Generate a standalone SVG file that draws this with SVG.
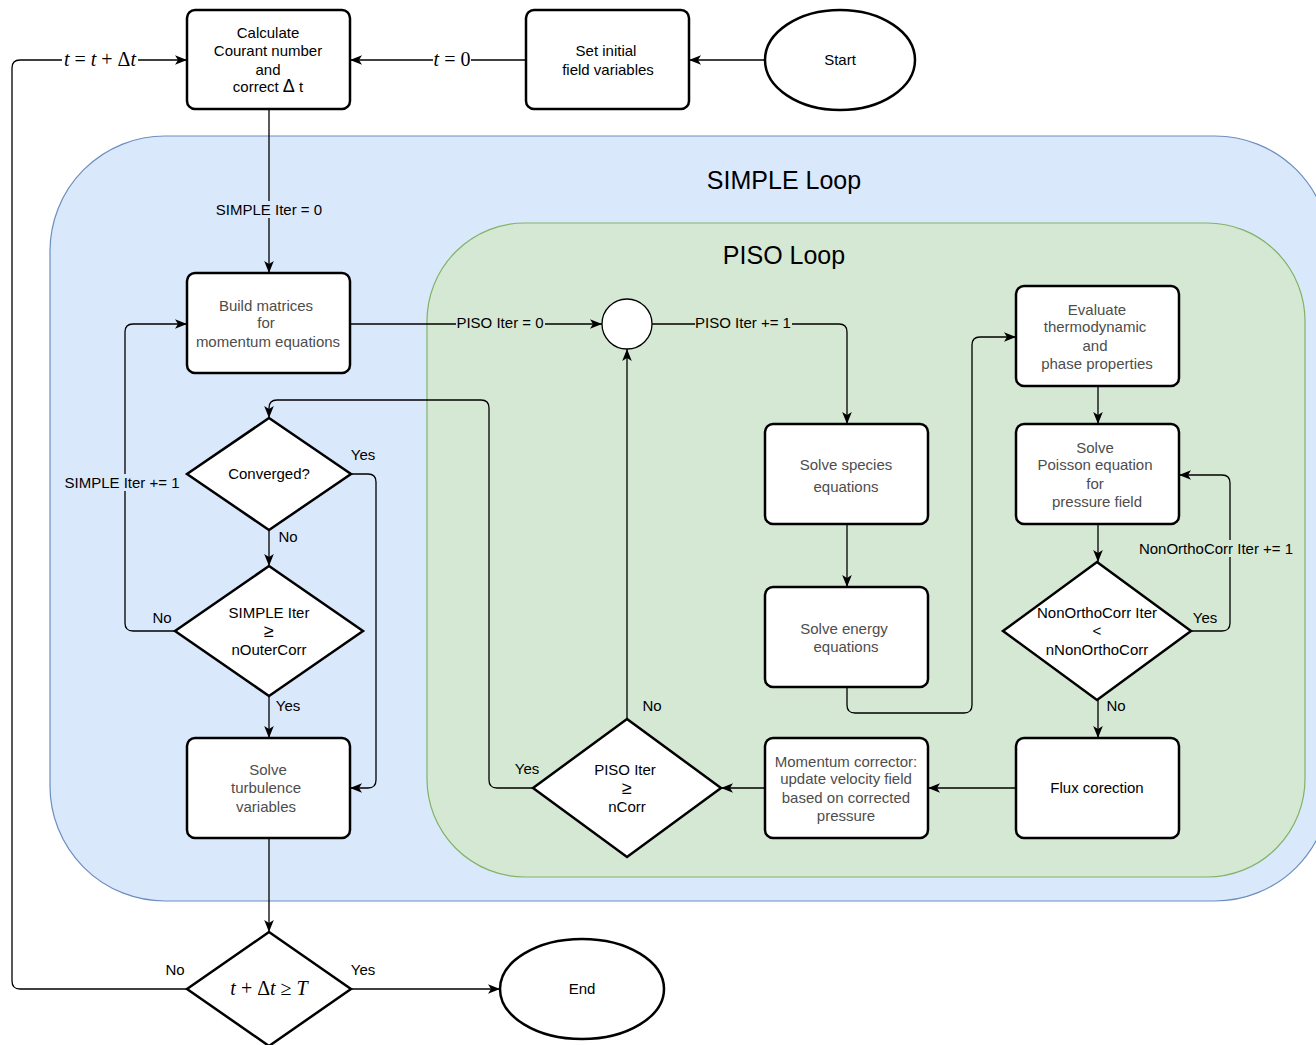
<svg xmlns="http://www.w3.org/2000/svg" width="1316" height="1045" viewBox="0 0 1316 1045">
<defs>
<marker id="arr" viewBox="0 0 10 8" refX="10" refY="4" markerWidth="12" markerHeight="10" markerUnits="userSpaceOnUse" orient="auto">
<path d="M0,0 L10,4 L0,8 L2.5,4 Z" fill="#000"/>
</marker>
<style>
.node{fill:#fff;stroke:#000;stroke-width:2.5}
.t{font-family:"Liberation Sans",Arial,sans-serif;font-size:15px;text-anchor:middle;fill:#000}
.g{fill:#4d4d4d}
.e{fill:none;stroke:#000;stroke-width:1.3}
.m{font-family:"Liberation Serif","Times New Roman",serif;font-size:20px;text-anchor:middle;fill:#000}
.title{font-family:"Liberation Sans",Arial,sans-serif;font-size:25px;text-anchor:middle;fill:#000}
.ge{font-size:18px}
</style>
</defs>
<rect width="1316" height="1045" fill="#fff"/>
<g id="simple-loop">
<rect x="50" y="136" width="1280" height="765" rx="115" ry="115" fill="#dae8fc" stroke="#6c8ebf" stroke-width="1.2"/>
<text class="title" x="784" y="189">SIMPLE Loop</text>
</g>
<g id="piso-loop">
<rect x="427" y="223" width="878" height="654" rx="98" ry="98" fill="#d5e8d4" stroke="#82b366" stroke-width="1.2"/>
<text class="title" x="784" y="264">PISO Loop</text>
</g>
<g id="connectors">
<path class="e" d="M765,60 H689" marker-end="url(#arr)"/>
<path class="e" d="M526,60 H350" marker-end="url(#arr)"/>
<path class="e" d="M187,989 H20 Q12,989 12,981 V68 Q12,60 20,60 H187" marker-end="url(#arr)"/>
<path class="e" d="M269,109 V273" marker-end="url(#arr)"/>
<path class="e" d="M350,324 H602" marker-end="url(#arr)"/>
<path class="e" d="M652,324 H839 Q847,324 847,332 V424" marker-end="url(#arr)"/>
<path class="e" d="M847,524 V587" marker-end="url(#arr)"/>
<path class="e" d="M847,687 V705 Q847,713 855,713 H964 Q972,713 972,705 V345 Q972,337 980,337 H1016" marker-end="url(#arr)"/>
<path class="e" d="M1098,386 V424" marker-end="url(#arr)"/>
<path class="e" d="M1098,524 V562" marker-end="url(#arr)"/>
<path class="e" d="M1191,631 H1222 Q1230,631 1230,623 V483 Q1230,475 1222,475 H1179" marker-end="url(#arr)"/>
<path class="e" d="M1098,700 V738" marker-end="url(#arr)"/>
<path class="e" d="M1016,788 H928" marker-end="url(#arr)"/>
<path class="e" d="M765,788 H721" marker-end="url(#arr)"/>
<path class="e" d="M627,719 V349" marker-end="url(#arr)"/>
<path class="e" d="M533,788 H497 Q489,788 489,780 V408 Q489,400 481,400 H277 Q269,400 269,408 V418" marker-end="url(#arr)"/>
<path class="e" d="M351,474 H368 Q376,474 376,482 V780 Q376,788 368,788 H350" marker-end="url(#arr)"/>
<path class="e" d="M269,530 V566" marker-end="url(#arr)"/>
<path class="e" d="M175,631 H133 Q125,631 125,623 V332 Q125,324 133,324 H187" marker-end="url(#arr)"/>
<path class="e" d="M269,696 V738" marker-end="url(#arr)"/>
<path class="e" d="M269,838 V932" marker-end="url(#arr)"/>
<path class="e" d="M351,989 H500" marker-end="url(#arr)"/>
<!-- edge labels -->
<rect x="433" y="50" width="38" height="20" fill="#fff"/>
<text class="m" x="452" y="66"><tspan font-style="italic">t</tspan> = 0</text>
<rect x="62" y="50" width="76" height="20" fill="#fff"/>
<text class="m" x="100" y="66"><tspan font-style="italic">t</tspan> = <tspan font-style="italic">t</tspan> + Δ<tspan font-style="italic">t</tspan></text>
<rect x="214" y="201" width="110" height="17" fill="#dae8fc"/>
<text class="t" x="269" y="215">SIMPLE Iter = 0</text>
<rect x="456" y="315" width="89" height="17" fill="#d5e8d4"/>
<text class="t" x="500" y="328">PISO Iter = 0</text>
<rect x="695" y="315" width="97" height="17" fill="#d5e8d4"/>
<text class="t" x="743" y="328">PISO Iter += 1</text>
<rect x="1138" y="540" width="157" height="17" fill="#d5e8d4"/>
<text class="t" x="1216" y="554">NonOrthoCorr Iter += 1</text>
<rect x="62" y="474" width="120" height="17" fill="#dae8fc"/>
<text class="t" x="122" y="488">SIMPLE Iter += 1</text>
<text class="t" x="363" y="460">Yes</text>
<text class="t" x="288" y="542">No</text>
<text class="t" x="162" y="623">No</text>
<text class="t" x="288" y="711">Yes</text>
<text class="t" x="1205" y="623">Yes</text>
<text class="t" x="1116" y="711">No</text>
<text class="t" x="652" y="711">No</text>
<text class="t" x="527" y="774">Yes</text>
<text class="t" x="175" y="975">No</text>
<text class="t" x="363" y="975">Yes</text>
</g>
<g id="calc">
<rect class="node" x="187" y="10" width="163" height="99" rx="8"/>
<text class="t" x="268" y="38">Calculate</text>
<text class="t" x="268" y="56">Courant number</text>
<text class="t" x="268" y="75">and</text>
<text class="t" x="268" y="92">correct <tspan class="ge">Δ</tspan> t</text>
</g>
<g id="init">
<rect class="node" x="526" y="10" width="163" height="99" rx="8"/>
<text class="t" x="606" y="56">Set initial</text>
<text class="t" x="608" y="75">field variables</text>
</g>
<g id="start">
<ellipse class="node" cx="840" cy="60" rx="75" ry="50"/>
<text class="t" x="840" y="65">Start</text>
</g>
<g id="build">
<rect class="node" x="187" y="273" width="163" height="100" rx="8"/>
<text class="t g" x="266" y="311">Build matrices</text>
<text class="t g" x="266" y="328">for</text>
<text class="t g" x="268" y="347">momentum equations</text>
</g>
<g id="converged">
<polygon class="node" points="269,418 351,474 269,530 187,474"/>
<text class="t" x="269" y="479">Converged?</text>
</g>
<g id="simple-check">
<polygon class="node" points="269,566 363,631 269,696 175,631"/>
<text class="t" x="269" y="618">SIMPLE Iter</text>
<text class="t ge" x="269" y="637">≥</text>
<text class="t" x="269" y="655">nOuterCorr</text>
</g>
<g id="turb">
<rect class="node" x="187" y="738" width="163" height="100" rx="8"/>
<text class="t g" x="268" y="775">Solve</text>
<text class="t g" x="266" y="793">turbulence</text>
<text class="t g" x="266" y="812">variables</text>
</g>
<g id="time-check">
<polygon class="node" points="269,932 351,989 269,1046 187,989"/>
<text class="m" x="269" y="995"><tspan font-style="italic">t</tspan> + Δ<tspan font-style="italic">t</tspan> ≥ <tspan font-style="italic">T</tspan></text>
</g>
<g id="end">
<ellipse class="node" cx="582" cy="989" rx="82" ry="50"/>
<text class="t" x="582" y="994">End</text>
</g>
<g id="junction">
<circle cx="627" cy="324" r="25" fill="#fff" stroke="#000" stroke-width="1.3"/>
</g>
<g id="species">
<rect class="node" x="765" y="424" width="163" height="100" rx="8"/>
<text class="t g" x="846" y="470">Solve species</text>
<text class="t g" x="846" y="492">equations</text>
</g>
<g id="energy">
<rect class="node" x="765" y="587" width="163" height="100" rx="8"/>
<text class="t g" x="844" y="634">Solve energy</text>
<text class="t g" x="846" y="652">equations</text>
</g>
<g id="momentum">
<rect class="node" x="765" y="738" width="163" height="100" rx="8"/>
<text class="t g" x="846" y="767">Momentum corrector:</text>
<text class="t g" x="846" y="784">update velocity field</text>
<text class="t g" x="846" y="803">based on corrected</text>
<text class="t g" x="846" y="821">pressure</text>
</g>
<g id="thermo">
<rect class="node" x="1016" y="286" width="163" height="100" rx="8"/>
<text class="t g" x="1097" y="315">Evaluate</text>
<text class="t g" x="1095" y="332">thermodynamic</text>
<text class="t g" x="1095" y="351">and</text>
<text class="t g" x="1097" y="369">phase properties</text>
</g>
<g id="poisson">
<rect class="node" x="1016" y="424" width="163" height="100" rx="8"/>
<text class="t g" x="1095" y="453">Solve</text>
<text class="t g" x="1095" y="470">Poisson equation</text>
<text class="t g" x="1095" y="489">for</text>
<text class="t g" x="1097" y="507">pressure field</text>
</g>
<g id="nonortho">
<polygon class="node" points="1097,562 1191,631 1097,700 1003,631"/>
<text class="t" x="1097" y="618">NonOrthoCorr Iter</text>
<text class="t" x="1097" y="636">&lt;</text>
<text class="t" x="1097" y="655">nNonOrthoCorr</text>
</g>
<g id="flux">
<rect class="node" x="1016" y="738" width="163" height="100" rx="8"/>
<text class="t" x="1097" y="793">Flux corection</text>
</g>
<g id="piso-check">
<polygon class="node" points="627,719 721,788 627,857 533,788"/>
<text class="t" x="625" y="775">PISO Iter</text>
<text class="t ge" x="627" y="794">≥</text>
<text class="t" x="627" y="812">nCorr</text>
</g>
</svg>
